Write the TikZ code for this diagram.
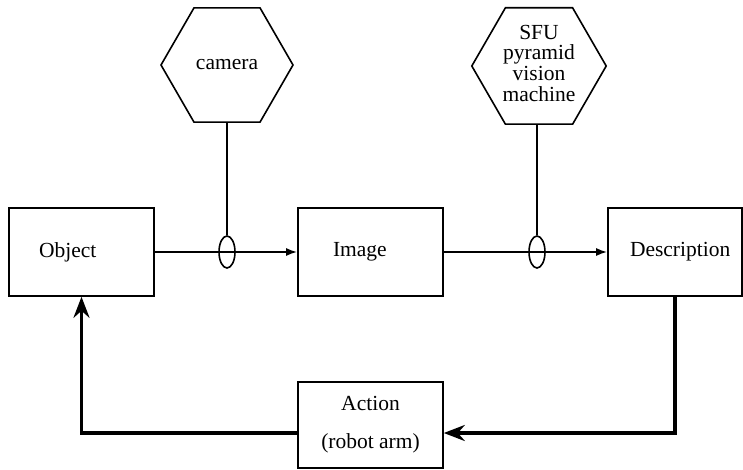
\documentclass[tikz,border=0pt]{standalone}
\usepackage{fontspec}
\setmainfont{Liberation Serif}
\usetikzlibrary{shapes.geometric,arrows.meta}

\tikzset{
  lbl/.style={font=\fontsize{21.5}{20}\selectfont},
  box/.style={draw, line width=1.6pt, rectangle, minimum height=88pt, inner sep=0pt, lbl},
  hex/.style={draw, line width=1.6pt, regular polygon, regular polygon sides=6,
              minimum size=132pt, inner sep=0pt, align=center, lbl},
  ring/.style={draw, line width=1.6pt, ellipse, minimum width=16pt, minimum height=32pt, inner sep=0pt},
  feed/.style={line width=1.8pt, -{Latex[length=11pt,width=8pt]}},
  stem/.style={line width=1.8pt},
  fb/.style={line width=3.4pt, -{Stealth[length=21pt,width=16pt,inset=7pt]}},
}

\begin{document}
\begin{tikzpicture}[x=1pt,y=-1pt]
  \useasboundingbox (0,0) rectangle (743,470);

  % main chain of boxes
  \node[box, minimum width=145pt, text width=85pt, align=left, inner xsep=30pt] (obj) at (81.5,252) {Object};
  \node[box, minimum width=145pt, text width=75pt, align=left, inner xsep=35pt] (img) at (370.5,252) {Image};
  \node[box, minimum width=134pt, text width=90pt, align=left, inner xsep=22pt] (desc) at (675,252) {Description};
  \node[box, minimum width=145pt, minimum height=86pt, align=center] (act) at (370.5,425) {Action\\[18pt](robot arm)};

  % devices
  \node[hex] (cam) at (227,65) {camera};
  \node[hex] (sfu) at (539,66) {\raisebox{5pt}{\begin{tabular}{@{}c@{}}SFU\\pyramid\\vision\\machine\end{tabular}}};

  % junction rings on the forward arrows
  \node[ring] (camring) at (227,252) {};
  \node[ring] (sfuring) at (537,252) {};

  % forward path
  \draw[feed] (obj.east) -- (img.west);
  \draw[feed] (img.east) -- (desc.west);
  \draw[stem] (cam.south) -- (camring.north);
  \draw[stem] (sfu.south -| sfuring.north) -- (sfuring.north);

  % feedback path
  \draw[fb] (desc.south) |- ([yshift=-8pt]act.east);
  \draw[fb] ([yshift=-8pt]act.west) -| (obj.south);
\end{tikzpicture}
\end{document}
